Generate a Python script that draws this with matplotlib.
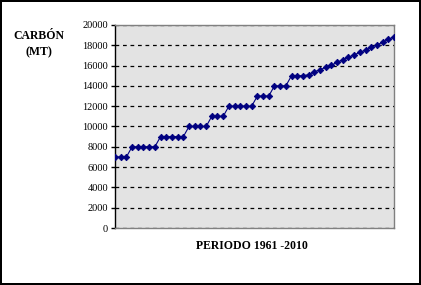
import numpy as np
import matplotlib.pyplot as plt

years = list(range(1961, 2011))
carbon = [7000, 7000, 7000,
          8000, 8000, 8000, 8000, 8000,
          9000, 9000, 9000, 9000, 9000,
          10000, 10000, 10000, 10000,
          11000, 11000, 11000,
          12000, 12000, 12000, 12000, 12000,
          13000, 13000, 13000,
          14000, 14000, 14000,
          15000, 15000, 15000, 15100,
          15400, 15570, 15840, 16030, 16330, 16560, 16820, 17050,
          17310, 17510, 17800, 18030, 18300, 18590, 18820]
yticks = list(range(0, 20001, 2000))

plt.rcParams['font.family'] = ['Liberation Serif', 'DejaVu Serif']

fig = plt.figure(figsize=(4.21, 2.85), dpi=100)
fig.patch.set_facecolor('white')
fig.patch.set_edgecolor('black')
fig.patch.set_linewidth(1.5)

ax = fig.add_axes([115/421, 1 - 228/285, 279/421, 203/285])
ax.set_facecolor('#e3e3e3')
x = np.arange(len(years))
ax.plot(x, carbon, color='#000080', linewidth=0.8, marker='D', markersize=3.3,
        markeredgewidth=0.6, markeredgecolor='#000080',
        markerfacecolor='#000080', zorder=3)

ax.set_xlim(0, len(years) - 1)
ax.set_ylim(0, 20000)
ax.set_yticks(yticks)
ax.set_yticklabels([str(v) for v in yticks], fontsize=7.5)
ax.set_xticks([])
ax.yaxis.grid(True, linestyle=(0, (3, 3)), color='black', linewidth=0.9)
ax.set_axisbelow(True)
ax.tick_params(axis='y', direction='out', length=3, width=1, pad=2)

ax.spines['left'].set_color('black')
ax.spines['left'].set_linewidth(1)
for s in ['top', 'right', 'bottom']:
    ax.spines[s].set_color('#808080')
    ax.spines[s].set_linewidth(1)

fig.text(39/421, 1 - 36/285, 'CARBÓN', ha='center', va='center',
         fontsize=8.5, fontweight='bold')
fig.text(39/421, 1 - 52/285, '(MT)', ha='center', va='center',
         fontsize=8.5, fontweight='bold')
fig.text(252/421, 1 - 246/285, 'PERIODO 1961 -2010', ha='center', va='center',
         fontsize=8.5, fontweight='bold')

fig.savefig('out.png', dpi=100, edgecolor=fig.get_edgecolor())
